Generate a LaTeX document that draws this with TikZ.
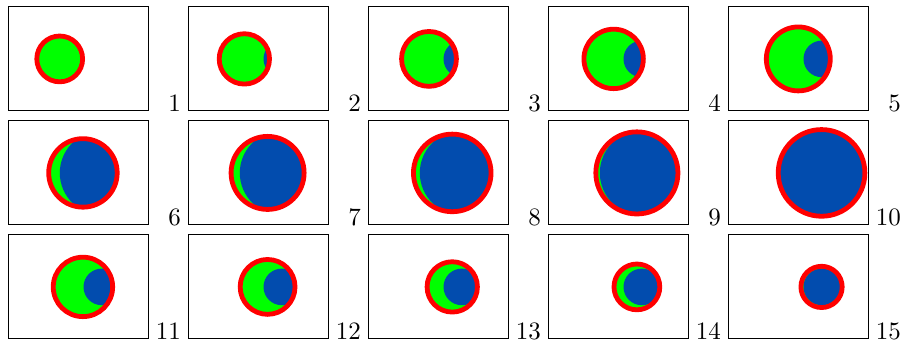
\documentclass[tikz,border=0pt]{standalone}
\definecolor{sunred}{RGB}{255,0,0}
\definecolor{sungreen}{RGB}{0,255,0}
\definecolor{moonblue}{RGB}{2,76,174}
\begin{document}
\begin{tikzpicture}[x=0.4pt,y=-0.4pt,
  frame/.style={draw=black,line width=0.4pt},
  ring/.style={draw=sunred,line width=1.92pt},
  lab/.style={anchor=base east,inner sep=0pt,font=\normalsize}]
\useasboundingbox (0,0) rectangle (902,343);
\foreach \i in {1,...,15}{
  \pgfmathtruncatemacro\c{mod(\i-1,5)}
  \pgfmathtruncatemacro\rr{div(\i-1,5)}
  \pgfmathsetmacro\L{8.5+180*\c}
  \pgfmathsetmacro\T{6.5+114*\rr}
  \pgfmathsetmacro\k{\i<11 ? \i-1 : \i-6}
  \pgfmathsetmacro\cx{\L+51.2+4.65*\k}
  \pgfmathsetmacro\cy{\T+52.4}
  \pgfmathsetmacro\r{\i<11 ? 22.9+2.27*(\i-1) : 22.9+2.27*(14-\i)}
  \pgfmathsetmacro\rb{and(\i>5,\i<11) ? 42 : 18.3}
  \fill[sungreen] (\cx,\cy) circle[radius=\r];
  \begin{scope}
    \clip (\cx,\cy) circle[radius=\r];
    \fill[moonblue] (\L+93.3,\cy) circle[radius=\rb];
  \end{scope}
  \draw[ring] (\cx,\cy) circle[radius=\r];
  \draw[frame] (\L,\T) rectangle ++(140,104);
  \node[lab] (lab\i) at (\L+172.8,\T+104.5) {\i};
}
\end{tikzpicture}
\end{document}
